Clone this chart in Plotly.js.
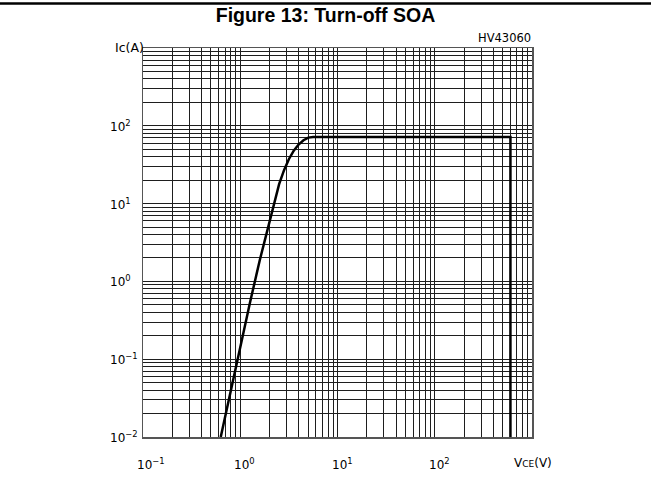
<!DOCTYPE html>
<html>
<head>
<meta charset="utf-8">
<script src="https://cdn.plot.ly/plotly-3.0.1.min.js"></script>
<style>html,body{margin:0;padding:0;background:#fff;}#chart{width:651px;height:483px;}</style>
</head>
<body>
<div id="chart"></div>
<script>
// Turn-off SOA boundary (Vce in V, Ic in A)
const vce = [0.63, 0.794, 1.0, 1.26, 1.585, 1.995, 2.24, 2.51, 2.82, 3.16, 3.55, 3.98, 4.47, 5.01, 5.62, 600, 600];
const ic  = [0.01, 0.038, 0.145, 0.537, 1.86, 6.03, 10.7, 17.8, 26.9, 37.2, 47.9, 57.5, 65.3, 70.5, 72, 72, 0.01];

// decade tick labels
const xTickVals = [0.1, 1, 10, 100];
const xTickLabels = ['10<sup>−1</sup>', '10<sup>0</sup>', '10<sup>1</sup>', '10<sup>2</sup>'];
const yTickVals = [0.01, 0.1, 1, 10, 100];
const yTickLabels = ['10<sup>−2</sup>', '10<sup>−1</sup>', '10<sup>0</sup>', '10<sup>1</sup>', '10<sup>2</sup>'];

const xDecades = [-1, 0, 1, 2];
const yDecades = [-2, -1, 0, 1, 2];
const mult = [1, 2, 3, 4, 5, 6, 7, 8, 9];

const titleText = '<b>Figure 13: Turn-off SOA</b>';
const xLabel = 'V<span style="font-size:9px">CE</span>(V)';
const yLabel = 'Ic(A)';
const partCode = 'HV43060';

function gridVals(decs, top) {
  const out = [];
  decs.forEach(d => mult.forEach(m => out.push(m * Math.pow(10, d))));
  out.push(top);
  return out;
}
const gridX = gridVals(xDecades, 1000);
const gridY = gridVals(yDecades, 1000);

const labelFont = {family: 'DejaVu Sans, sans-serif', size: 12, color: '#000'};

const annotations = [];
xTickVals.forEach((v, i) => annotations.push({
  x: Math.log10(v), xref: 'x', y: 0, yref: 'paper',
  text: xTickLabels[i], showarrow: false, xanchor: 'left', yanchor: 'middle',
  xshift: -8, yshift: -27, font: labelFont
}));
yTickVals.forEach((v, i) => annotations.push({
  x: 0, xref: 'paper', y: Math.log10(v), yref: 'y',
  text: yTickLabels[i], showarrow: false, xanchor: 'left', yanchor: 'middle',
  xshift: -35, yshift: 0, font: labelFont
}));
annotations.push({x: 3, xref: 'x', y: 0, yref: 'paper', text: xLabel, showarrow: false,
  xanchor: 'left', yanchor: 'middle', xshift: -20, yshift: -26, font: labelFont});
annotations.push({x: 0, xref: 'paper', y: 3, yref: 'y', text: yLabel, showarrow: false,
  xanchor: 'left', yanchor: 'middle', xshift: -30, yshift: 1, font: {family: 'DejaVu Sans, sans-serif', size: 12.5, color: '#000'}});
annotations.push({x: 1, xref: 'paper', y: 1, yref: 'paper', text: partCode, showarrow: false,
  xanchor: 'right', yanchor: 'bottom', xshift: 1, yshift: 1, font: {family: 'DejaVu Sans, sans-serif', size: 11.5, color: '#000'}});

const data = [{
  x: vce, y: ic, type: 'scatter', mode: 'lines',
  line: {color: '#000', width: 2.5}, hoverinfo: 'skip'
}];

const axisCommon = {
  type: 'log', showgrid: true, gridcolor: '#1e1e1e', gridwidth: 1,
  tickmode: 'array', showticklabels: false, ticks: '',
  showline: true, mirror: true, linecolor: '#555', linewidth: 1.5, zeroline: false, fixedrange: true
};

const layout = {
  width: 651, height: 483,
  margin: {l: 143, r: 119, t: 48, b: 46},
  paper_bgcolor: '#fff', plot_bgcolor: '#fff',
  showlegend: false,
  title: {text: titleText, x: 0.5, xanchor: 'center', y: 0.968, yanchor: 'middle',
    font: {family: 'Liberation Sans, Arial, sans-serif', size: 19.5, color: '#000'}},
  xaxis: Object.assign({}, axisCommon, {range: [-1, 3], tickvals: gridX}),
  yaxis: Object.assign({}, axisCommon, {range: [-2, 3], tickvals: gridY}),
  annotations: annotations,
  shapes: [{type: 'line', xref: 'paper', yref: 'paper', x0: -0.5, x1: 2, y0: 1, y1: 1,
    line: {color: '#000', width: 2.5}, layer: 'above'}]
};
// move the top rule to the page top (paper y = 1 + (t - 3)/plotHeight)
layout.shapes[0].y0 = layout.shapes[0].y1 = 1 + (48 - 3.5) / (483 - 48 - 46);

Plotly.newPlot('chart', data, layout, {displayModeBar: false, staticPlot: true});
</script>
</body>
</html>
